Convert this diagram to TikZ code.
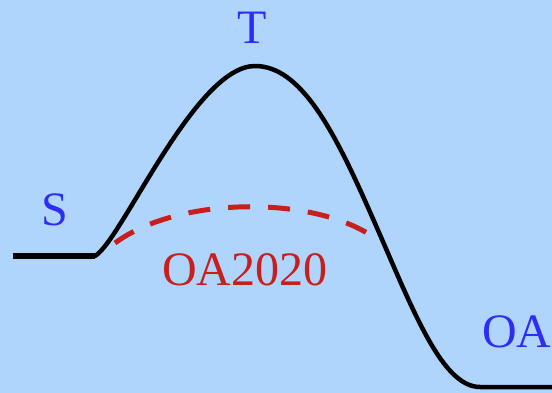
\documentclass[tikz,border=0pt]{standalone}
\usepackage{fontspec}
\setmainfont{Liberation Serif}
\definecolor{bg}{RGB}{176,213,252}
\definecolor{lblue}{RGB}{45,45,245}
\definecolor{lred}{RGB}{200,30,30}
\begin{document}
\begin{tikzpicture}[x=1pt,y=-1pt,
  lab/.style={font=\fontsize{48}{48}\selectfont, inner sep=0pt},
  curve/.style={line width=4.5pt, black, line cap=round, line join=round},
  alt/.style={line width=5pt, lred, dash pattern=on 22pt off 18pt}]
\fill[bg] (0,0) rectangle (552,393);
\useasboundingbox (0,0) rectangle (552,393);
\coordinate (s0) at (13,256);
\coordinate (s1) at (95,256);
\coordinate (top) at (255,66);
\coordinate (mid) at (370,212);
\coordinate (e0) at (480,387);
\coordinate (e1) at (555,387);
\coordinate (d0) at (115,243);
\coordinate (d1) at (379,241);
\draw[line width=6pt, black] (s0) -- (s1);
\draw[curve] (s1) .. controls (122,240) and (195,66) .. (top)
  .. controls (300,66) and (333,128) .. (mid)
  .. controls (410,302) and (440,387) .. (e0) -- (e1);
\draw[alt] (d0) .. controls (180,195) and (320,195) .. (d1);
\node[lab, text=lblue] (S) at (55,210) {S};
\node[lab, text=lblue] (T) at (252,28) {T};
\node[lab, text=lred, anchor=west] (OA2020) at (162,270) {OA2020};
\node[lab, text=lblue, anchor=west] (OA) at (482,332) {OA};
\end{tikzpicture}
\end{document}
